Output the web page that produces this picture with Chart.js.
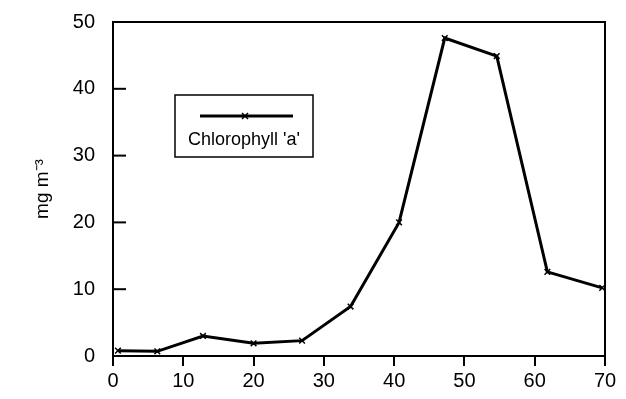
<!DOCTYPE html>
<html>
<head>
<meta charset="utf-8">
<script src="https://cdn.jsdelivr.net/npm/chart.js@4"></script>
<style>
  body { margin: 0; background: #fff; }
  canvas { display: block; }
</style>
</head>
<body>
<canvas id="chart" width="626" height="399"></canvas>
<script>
// valeurs
const depth = [0.7, 6.3, 12.8, 20.0, 26.9, 33.8, 40.7, 47.2, 54.6, 61.8, 69.6];
const chlorophyll = [0.8, 0.7, 3.0, 1.9, 2.3, 7.4, 20.0, 47.6, 44.9, 12.6, 10.2];
const xTicks = [0, 10, 20, 30, 40, 50, 60, 70];
const yTicks = [0, 10, 20, 30, 40, 50];
const seriesLabel = "Chlorophyll 'a'";
const yTitle = 'mg m\u207B\u00B3';

const points = depth.map((d, i) => ({ x: d, y: chlorophyll[i] }));
const FONT = 'Liberation Sans, Arial, Helvetica, sans-serif';

// cadre, graduations vers l'intérieur et légende dans le graphique
const framePlugin = {
  id: 'frame',
  afterDraw(chart) {
    const ctx = chart.ctx;
    const a = chart.chartArea;
    const ys = chart.scales.y;
    ctx.save();
    ctx.strokeStyle = '#000';
    ctx.lineWidth = 2;
    ctx.strokeRect(a.left, a.top, a.right - a.left, a.bottom - a.top);

    yTicks.forEach(v => {
      const py = ys.getPixelForValue(v);
      ctx.beginPath();
      ctx.moveTo(a.left, py);
      ctx.lineTo(a.left + 13, py);
      ctx.stroke();
    });

    // légende
    ctx.lineWidth = 1.5;
    ctx.strokeRect(175, 95, 138, 62);
    ctx.lineWidth = 3;
    ctx.beginPath();
    ctx.moveTo(200, 116);
    ctx.lineTo(293, 116);
    ctx.stroke();
    ctx.lineWidth = 1.5;
    ctx.beginPath();
    ctx.moveTo(242, 113); ctx.lineTo(248, 119);
    ctx.moveTo(248, 113); ctx.lineTo(242, 119);
    ctx.stroke();
    ctx.fillStyle = '#000';
    ctx.font = '18px ' + FONT;
    ctx.textAlign = 'center';
    ctx.textBaseline = 'middle';
    ctx.fillText(seriesLabel, 244, 140);
    ctx.restore();
  }
};

new Chart(document.getElementById('chart'), {
  type: 'scatter',
  data: {
    datasets: [{
      label: seriesLabel,
      data: points,
      showLine: true,
      borderColor: '#000',
      borderWidth: 3,
      pointStyle: 'crossRot',
      pointRadius: 4,
      pointBorderWidth: 1.5,
      pointBorderColor: '#000',
      tension: 0
    }]
  },
  options: {
    responsive: false,
    animation: false,
    devicePixelRatio: 1,
    layout: { padding: { left: 0, right: 21, top: 19, bottom: 0 } },
    plugins: {
      legend: { display: false },
      tooltip: { enabled: false }
    },
    scales: {
      x: {
        type: 'linear',
        min: 0,
        max: 70,
        afterBuildTicks: s => { s.ticks = xTicks.map(v => ({ value: v })); },
        afterFit: s => { s.height = 43; },
        grid: { drawOnChartArea: false, drawTicks: true, tickLength: 10, color: '#000', lineWidth: 2 },
        border: { display: false },
        ticks: { color: '#000', font: { size: 20, family: FONT }, padding: 3, maxRotation: 0 }
      },
      y: {
        min: 0,
        max: 50,
        afterBuildTicks: s => { s.ticks = yTicks.map(v => ({ value: v })); },
        afterFit: s => { s.width = 113; },
        grid: { display: false },
        border: { display: false },
        ticks: { color: '#000', font: { size: 20, family: FONT }, padding: 10 },
        title: {
          display: true,
          text: yTitle,
          color: '#000',
          font: { size: 19, family: FONT },
          padding: { top: 31, bottom: 0 }
        }
      }
    }
  },
  plugins: [framePlugin]
});
</script>
</body>
</html>
